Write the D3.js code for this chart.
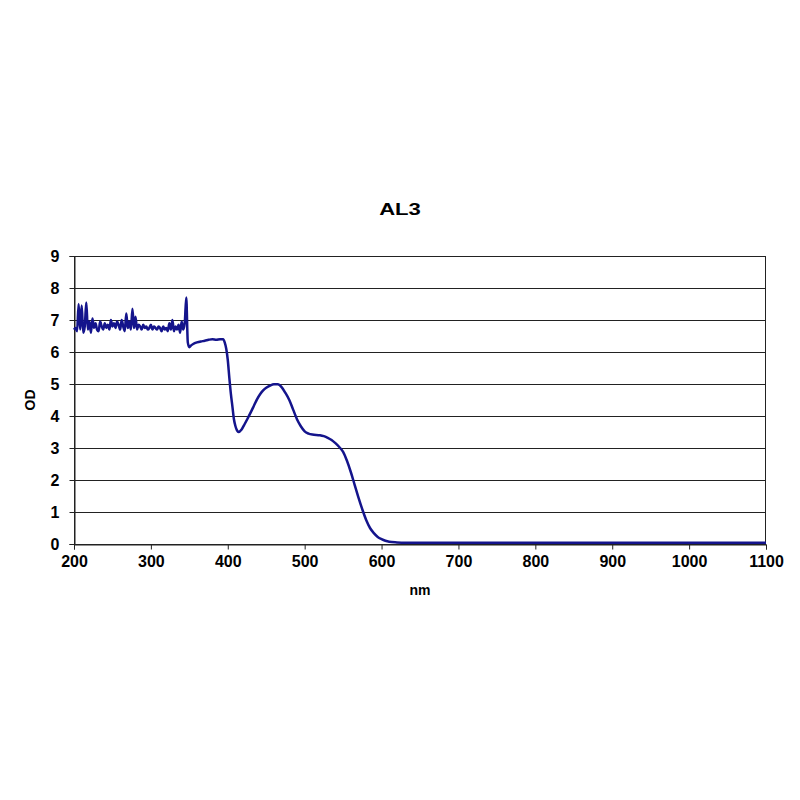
<!DOCTYPE html>
<html>
<head>
<meta charset="utf-8">
<script src="https://cdn.jsdelivr.net/npm/d3@7"></script>
<style>
  html, body { margin: 0; padding: 0; background: #fff; }
  svg { display: block; }
  text { font-family: "Liberation Sans", Arial, sans-serif; font-weight: bold; fill: #000; }
</style>
</head>
<body>
<svg id="chart" width="800" height="800"></svg>
<script>
const chartTitle = "AL3";
const xLabel = "nm";
const yLabel = "OD";
const xTicks = [200, 300, 400, 500, 600, 700, 800, 900, 1000, 1100];
const yTicks = [0, 1, 2, 3, 4, 5, 6, 7, 8, 9];

const wavelength = [
  200,202,204,206,208,210,212,214,216,218,220,222,224,226,228,230,232,234,236,238,
  240,242,244,246,248,250,252,254,256,258,260,262,264,266,268,270,272,274,276,278,
  280,282,284,286,288,290,292,294,296,298,300,302,304,306,308,310,312,314,316,318,
  320,322,324,326,328,330,332,334,336,338,340,342,344,346,348,350,352,355,360,365,
  370,375,380,385,390,394,396,398,400,402,404,406,408,410,412,414,418,422,426,430,
  434,438,442,446,450,455,460,465,470,475,480,485,490,495,500,505,510,520,525,530,535,
  540,545,550,555,560,565,570,575,580,585,590,595,600,605,610,620,630,650,700,750,
  800,850,900,950,1000,1050,1100
];
const od = [
  6.70,6.75,6.65,7.50,6.70,7.45,6.60,6.80,7.55,6.70,6.95,6.60,7.05,6.75,6.90,6.70,6.65,6.95,6.80,6.70,
  6.90,6.75,6.85,6.70,7.00,6.80,6.90,6.75,6.95,6.85,6.70,7.00,6.80,6.65,7.20,6.75,6.95,6.70,7.35,6.75,
  7.10,6.70,6.85,6.80,6.70,6.85,6.75,6.80,6.70,6.75,6.85,6.70,6.80,6.75,6.70,6.80,6.75,6.65,6.80,6.70,
  6.75,6.65,6.90,6.70,7.00,6.65,6.80,6.70,6.85,6.60,6.95,6.70,6.90,7.70,6.30,6.15,6.20,6.25,6.30,6.33,
  6.35,6.38,6.40,6.38,6.40,6.40,6.30,6.10,5.75,5.20,4.70,4.30,3.90,3.68,3.55,3.50,3.58,3.75,3.93,4.12,
  4.32,4.52,4.68,4.80,4.88,4.95,4.99,4.99,4.90,4.72,4.50,4.20,3.90,3.68,3.52,3.45,3.42,3.40,3.37,3.32,3.25,
  3.15,3.03,2.88,2.60,2.25,1.85,1.45,1.08,0.75,0.50,0.34,0.22,0.15,0.10,0.07,0.05,0.04,0.04,0.04,0.04,
  0.04,0.04,0.04,0.04,0.04,0.04,0.04
];

const data = wavelength.map((w, i) => ({ x: w, y: od[i] }));

const svg = d3.select("#chart");
const mLeft = 74, mRight = 766, mTop = 256, mBottom = 544;

const x = d3.scaleLinear().domain([200, 1100]).range([mLeft, mRight]);
const y = d3.scaleLinear().domain([0, 9]).range([mBottom, mTop]);

// gridlines
svg.append("g").selectAll("line").data(yTicks.filter(t => t > 0)).join("line")
  .attr("x1", mLeft).attr("x2", mRight)
  .attr("y1", d => y(d) + 0.5).attr("y2", d => y(d) + 0.5)
  .attr("stroke", "#222").attr("stroke-width", 1);

// frame
svg.append("rect").attr("x", mLeft + 0.5).attr("y", mTop + 0.5)
  .attr("width", mRight - mLeft - 1).attr("height", mBottom - mTop)
  .attr("fill", "none").attr("stroke", "#222").attr("stroke-width", 1);

// axes
const xAxis = svg.append("g").attr("transform", `translate(0,${mBottom + 0.5})`)
  .call(d3.axisBottom(x).tickValues(xTicks).tickSize(5).tickPadding(6).tickFormat(d3.format("d")));
const yAxis = svg.append("g").attr("transform", `translate(${mLeft + 0.5},0)`)
  .call(d3.axisLeft(y).tickValues(yTicks).tickSize(5).tickPadding(10).tickFormat(d3.format("d")));
[xAxis, yAxis].forEach(g => {
  g.select(".domain").attr("stroke", "#222");
  g.selectAll(".tick line").attr("stroke", "#222");
  g.selectAll("text").attr("font-size", 16).attr("font-family", "Liberation Sans, Arial, sans-serif")
    .attr("font-weight", "bold").attr("fill", "#000");
});

// line
const line = d3.line().x(d => x(d.x)).y(d => y(d.y)).curve(d3.curveMonotoneX);
svg.append("path").datum(data)
  .attr("d", line)
  .attr("fill", "none")
  .attr("stroke", "#14148c")
  .attr("stroke-width", 2.5)
  .attr("stroke-linejoin", "round");

// title and labels
svg.append("text").attr("transform", "translate(400,215) scale(1.3,1)").attr("text-anchor", "middle")
  .attr("font-size", 17).text(chartTitle);
svg.append("text").attr("x", 420).attr("y", 595).attr("text-anchor", "middle")
  .attr("font-size", 14).text(xLabel);
svg.append("text").attr("transform", "translate(35,400) rotate(-90)").attr("text-anchor", "middle")
  .attr("font-size", 14).text(yLabel);
</script>
</body>
</html>
